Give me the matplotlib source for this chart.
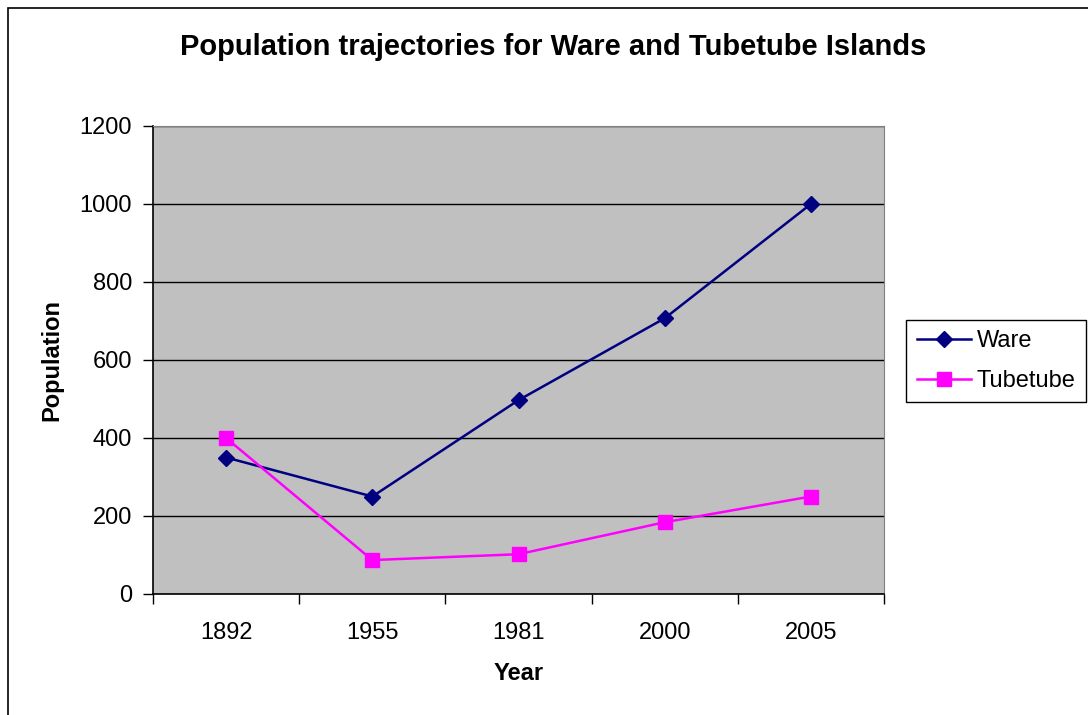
import matplotlib
matplotlib.use("Agg")
import matplotlib.pyplot as plt
from matplotlib.patches import Rectangle

plt.rcParams['font.family'] = ['Liberation Sans', 'DejaVu Sans']

years = ["1892", "1955", "1981", "2000", "2005"]
ware = [350, 250, 497, 707, 1000]
tubetube = [400, 87, 102, 184, 250]
yticks = [0, 200, 400, 600, 800, 1000, 1200]

W, H = 1088, 715
fig = plt.figure(figsize=(W / 100, H / 100), dpi=100)

# outer chart border
fig.patches.append(Rectangle((8 / W, -0.1), 1.2, 1 - 8 / H + 0.1, transform=fig.transFigure,
                             fill=False, edgecolor='black', linewidth=1.2))

ax = fig.add_axes([153 / W, 1 - 594 / H, (884 - 153) / W, (594 - 126) / H])
ax.set_facecolor('#C0C0C0')
x = list(range(len(years)))
ax.plot(x, ware, color='#000080', marker='D', markersize=8, linewidth=1.8, label='Ware')
ax.plot(x, tubetube, color='#FF00FF', marker='s', markersize=10, linewidth=1.8, label='Tubetube')

ax.set_xlim(-0.5, len(years) - 0.5)
ax.set_ylim(0, 1200)
ax.set_yticks(yticks)
ax.set_yticklabels([str(v) for v in yticks], fontsize=17)
ax.set_xticks([i - 0.5 for i in range(len(years) + 1)])
ax.set_xticklabels([])
ax.set_xticks(x, minor=True)
ax.set_xticklabels(years, minor=True, fontsize=17)
ax.tick_params(axis='x', which='minor', length=0, pad=20)
ax.tick_params(axis='x', which='major', length=7, direction='out', width=1)
ax.tick_params(axis='y', length=7, direction='out', width=1, pad=8)
ax.yaxis.grid(True, color='black', linewidth=1)
ax.set_axisbelow(True)
for s in ['top', 'right']:
    ax.spines[s].set_color('#808080')
for s in ['left', 'bottom']:
    ax.spines[s].set_color('black')
    ax.spines[s].set_linewidth(1.2)

ax.set_xlabel('Year', fontsize=17, fontweight='bold', labelpad=13)
ax.set_ylabel('Population', fontsize=17, fontweight='bold', labelpad=12)

fig.text(553 / W, 1 - 47 / H, 'Population trajectories for Ware and Tubetube Islands',
         ha='center', va='center', fontsize=21, fontweight='bold')

leg = fig.legend(loc='center left', bbox_to_anchor=(906 / W, 1 - 361 / H), fontsize=17,
                 frameon=True, fancybox=False, edgecolor='black', framealpha=1,
                 handlelength=2.3, borderpad=0.45, labelspacing=0.75, handletextpad=0.25,
                 borderaxespad=0)
leg.get_frame().set_linewidth(1)

fig.savefig('out.png', dpi=100)
